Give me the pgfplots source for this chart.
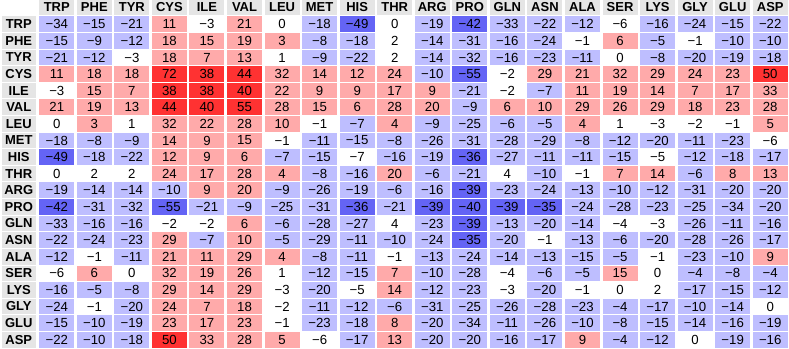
\documentclass[border=0pt]{standalone}
\usepackage{fontspec}
\setmainfont{Liberation Sans}
\usepackage{pgfplots}
\usepackage{pgfplotstable}
\pgfplotsset{compat=1.18}
\definecolor{cDB}{RGB}{100,100,245}
\definecolor{cLB}{RGB}{190,190,255}
\definecolor{cPK}{RGB}{255,170,170}
\definecolor{cRD}{RGB}{255,50,50}
\pgfdeclareplotmark{cell}{\pgfpathrectangle{\pgfpoint{-17.5pt}{-7.8pt}}{\pgfpoint{35pt}{15.6pt}}\pgfusepathqfill}
\newcommand\fmt[1]{\edef\tmpv{#1}\ifnum\tmpv<0 \char"2212\relax\number-\tmpv\relax\else\tmpv\fi}
% x = column, y = row, v = value, c = colour class (0 dark blue, 1 light blue, 2 white, 3 pink, 4 red)
\pgfplotstableread[row sep=\\]{
x y v c\\
0 0 -34 1\\ 1 0 -15 1\\ 2 0 -21 1\\ 3 0 11 3\\ 4 0 -3 2\\ 5 0 21 3\\ 6 0 0 2\\ 7 0 -18 1\\ 8 0 -49 0\\ 9 0 0 2\\ 10 0 -19 1\\ 11 0 -42 0\\ 12 0 -33 1\\ 13 0 -22 1\\ 14 0 -12 1\\ 15 0 -6 2\\ 16 0 -16 1\\ 17 0 -24 1\\ 18 0 -15 1\\ 19 0 -22 1\\
0 1 -15 1\\ 1 1 -9 1\\ 2 1 -12 1\\ 3 1 18 3\\ 4 1 15 3\\ 5 1 19 3\\ 6 1 3 3\\ 7 1 -8 1\\ 8 1 -18 1\\ 9 1 2 2\\ 10 1 -14 1\\ 11 1 -31 1\\ 12 1 -16 1\\ 13 1 -24 1\\ 14 1 -1 2\\ 15 1 6 3\\ 16 1 -5 1\\ 17 1 -1 2\\ 18 1 -10 1\\ 19 1 -10 1\\
0 2 -21 1\\ 1 2 -12 1\\ 2 2 -3 2\\ 3 2 18 3\\ 4 2 7 3\\ 5 2 13 3\\ 6 2 1 2\\ 7 2 -9 1\\ 8 2 -22 1\\ 9 2 2 2\\ 10 2 -14 1\\ 11 2 -32 1\\ 12 2 -16 1\\ 13 2 -23 1\\ 14 2 -11 1\\ 15 2 0 2\\ 16 2 -8 1\\ 17 2 -20 1\\ 18 2 -19 1\\ 19 2 -18 1\\
0 3 11 3\\ 1 3 18 3\\ 2 3 18 3\\ 3 3 72 4\\ 4 3 38 4\\ 5 3 44 4\\ 6 3 32 3\\ 7 3 14 3\\ 8 3 12 3\\ 9 3 24 3\\ 10 3 -10 1\\ 11 3 -55 0\\ 12 3 -2 2\\ 13 3 29 3\\ 14 3 21 3\\ 15 3 32 3\\ 16 3 29 3\\ 17 3 24 3\\ 18 3 23 3\\ 19 3 50 4\\
0 4 -3 2\\ 1 4 15 3\\ 2 4 7 3\\ 3 4 38 4\\ 4 4 38 4\\ 5 4 40 4\\ 6 4 22 3\\ 7 4 9 3\\ 8 4 9 3\\ 9 4 17 3\\ 10 4 9 3\\ 11 4 -21 1\\ 12 4 -2 2\\ 13 4 -7 1\\ 14 4 11 3\\ 15 4 19 3\\ 16 4 14 3\\ 17 4 7 3\\ 18 4 17 3\\ 19 4 33 3\\
0 5 21 3\\ 1 5 19 3\\ 2 5 13 3\\ 3 5 44 4\\ 4 5 40 4\\ 5 5 55 4\\ 6 5 28 3\\ 7 5 15 3\\ 8 5 6 3\\ 9 5 28 3\\ 10 5 20 3\\ 11 5 -9 1\\ 12 5 6 3\\ 13 5 10 3\\ 14 5 29 3\\ 15 5 26 3\\ 16 5 29 3\\ 17 5 18 3\\ 18 5 23 3\\ 19 5 28 3\\
0 6 0 2\\ 1 6 3 3\\ 2 6 1 2\\ 3 6 32 3\\ 4 6 22 3\\ 5 6 28 3\\ 6 6 10 3\\ 7 6 -1 2\\ 8 6 -7 1\\ 9 6 4 3\\ 10 6 -9 1\\ 11 6 -25 1\\ 12 6 -6 1\\ 13 6 -5 1\\ 14 6 4 3\\ 15 6 1 2\\ 16 6 -3 2\\ 17 6 -2 2\\ 18 6 -1 2\\ 19 6 5 3\\
0 7 -18 1\\ 1 7 -8 1\\ 2 7 -9 1\\ 3 7 14 3\\ 4 7 9 3\\ 5 7 15 3\\ 6 7 -1 2\\ 7 7 -11 1\\ 8 7 -15 1\\ 9 7 -8 1\\ 10 7 -26 1\\ 11 7 -31 1\\ 12 7 -28 1\\ 13 7 -29 1\\ 14 7 -8 1\\ 15 7 -12 1\\ 16 7 -20 1\\ 17 7 -11 1\\ 18 7 -23 1\\ 19 7 -6 2\\
0 8 -49 0\\ 1 8 -18 1\\ 2 8 -22 1\\ 3 8 12 3\\ 4 8 9 3\\ 5 8 6 3\\ 6 8 -7 1\\ 7 8 -15 1\\ 8 8 -7 2\\ 9 8 -16 1\\ 10 8 -19 1\\ 11 8 -36 0\\ 12 8 -27 1\\ 13 8 -11 1\\ 14 8 -11 1\\ 15 8 -15 1\\ 16 8 -5 2\\ 17 8 -12 1\\ 18 8 -18 1\\ 19 8 -17 1\\
0 9 0 2\\ 1 9 2 2\\ 2 9 2 2\\ 3 9 24 3\\ 4 9 17 3\\ 5 9 28 3\\ 6 9 4 3\\ 7 9 -8 1\\ 8 9 -16 1\\ 9 9 20 3\\ 10 9 -6 1\\ 11 9 -21 1\\ 12 9 4 2\\ 13 9 -10 1\\ 14 9 -1 2\\ 15 9 7 3\\ 16 9 14 3\\ 17 9 -6 1\\ 18 9 8 3\\ 19 9 13 3\\
0 10 -19 1\\ 1 10 -14 1\\ 2 10 -14 1\\ 3 10 -10 1\\ 4 10 9 3\\ 5 10 20 3\\ 6 10 -9 1\\ 7 10 -26 1\\ 8 10 -19 1\\ 9 10 -6 1\\ 10 10 -16 1\\ 11 10 -39 0\\ 12 10 -23 1\\ 13 10 -24 1\\ 14 10 -13 1\\ 15 10 -10 1\\ 16 10 -12 1\\ 17 10 -31 1\\ 18 10 -20 1\\ 19 10 -20 1\\
0 11 -42 0\\ 1 11 -31 1\\ 2 11 -32 1\\ 3 11 -55 0\\ 4 11 -21 1\\ 5 11 -9 1\\ 6 11 -25 1\\ 7 11 -31 1\\ 8 11 -36 0\\ 9 11 -21 1\\ 10 11 -39 0\\ 11 11 -40 0\\ 12 11 -39 0\\ 13 11 -35 0\\ 14 11 -24 1\\ 15 11 -28 1\\ 16 11 -23 1\\ 17 11 -25 1\\ 18 11 -34 1\\ 19 11 -20 1\\
0 12 -33 1\\ 1 12 -16 1\\ 2 12 -16 1\\ 3 12 -2 2\\ 4 12 -2 2\\ 5 12 6 3\\ 6 12 -6 1\\ 7 12 -28 1\\ 8 12 -27 1\\ 9 12 4 2\\ 10 12 -23 1\\ 11 12 -39 0\\ 12 12 -13 1\\ 13 12 -20 1\\ 14 12 -14 1\\ 15 12 -4 2\\ 16 12 -3 2\\ 17 12 -26 1\\ 18 12 -11 1\\ 19 12 -16 1\\
0 13 -22 1\\ 1 13 -24 1\\ 2 13 -23 1\\ 3 13 29 3\\ 4 13 -7 1\\ 5 13 10 3\\ 6 13 -5 1\\ 7 13 -29 1\\ 8 13 -11 1\\ 9 13 -10 1\\ 10 13 -24 1\\ 11 13 -35 0\\ 12 13 -20 1\\ 13 13 -1 2\\ 14 13 -13 1\\ 15 13 -6 1\\ 16 13 -20 1\\ 17 13 -28 1\\ 18 13 -26 1\\ 19 13 -17 1\\
0 14 -12 1\\ 1 14 -1 2\\ 2 14 -11 1\\ 3 14 21 3\\ 4 14 11 3\\ 5 14 29 3\\ 6 14 4 3\\ 7 14 -8 1\\ 8 14 -11 1\\ 9 14 -1 2\\ 10 14 -13 1\\ 11 14 -24 1\\ 12 14 -14 1\\ 13 14 -13 1\\ 14 14 -15 1\\ 15 14 -5 1\\ 16 14 -1 2\\ 17 14 -23 1\\ 18 14 -10 1\\ 19 14 9 3\\
0 15 -6 2\\ 1 15 6 3\\ 2 15 0 2\\ 3 15 32 3\\ 4 15 19 3\\ 5 15 26 3\\ 6 15 1 2\\ 7 15 -12 1\\ 8 15 -15 1\\ 9 15 7 3\\ 10 15 -10 1\\ 11 15 -28 1\\ 12 15 -4 2\\ 13 15 -6 1\\ 14 15 -5 1\\ 15 15 15 3\\ 16 15 0 2\\ 17 15 -4 1\\ 18 15 -8 1\\ 19 15 -4 1\\
0 16 -16 1\\ 1 16 -5 1\\ 2 16 -8 1\\ 3 16 29 3\\ 4 16 14 3\\ 5 16 29 3\\ 6 16 -3 2\\ 7 16 -20 1\\ 8 16 -5 2\\ 9 16 14 3\\ 10 16 -12 1\\ 11 16 -23 1\\ 12 16 -3 2\\ 13 16 -20 1\\ 14 16 -1 2\\ 15 16 0 2\\ 16 16 2 2\\ 17 16 -17 1\\ 18 16 -15 1\\ 19 16 -12 1\\
0 17 -24 1\\ 1 17 -1 2\\ 2 17 -20 1\\ 3 17 24 3\\ 4 17 7 3\\ 5 17 18 3\\ 6 17 -2 2\\ 7 17 -11 1\\ 8 17 -12 1\\ 9 17 -6 1\\ 10 17 -31 1\\ 11 17 -25 1\\ 12 17 -26 1\\ 13 17 -28 1\\ 14 17 -23 1\\ 15 17 -4 1\\ 16 17 -17 1\\ 17 17 -10 1\\ 18 17 -14 1\\ 19 17 0 2\\
0 18 -15 1\\ 1 18 -10 1\\ 2 18 -19 1\\ 3 18 23 3\\ 4 18 17 3\\ 5 18 23 3\\ 6 18 -1 2\\ 7 18 -23 1\\ 8 18 -18 1\\ 9 18 8 3\\ 10 18 -20 1\\ 11 18 -34 1\\ 12 18 -11 1\\ 13 18 -26 1\\ 14 18 -10 1\\ 15 18 -8 1\\ 16 18 -15 1\\ 17 18 -14 1\\ 18 18 -16 1\\ 19 18 -19 1\\
0 19 -22 1\\ 1 19 -10 1\\ 2 19 -18 1\\ 3 19 50 4\\ 4 19 33 3\\ 5 19 28 3\\ 6 19 5 3\\ 7 19 -6 2\\ 8 19 -17 1\\ 9 19 13 3\\ 10 19 -20 1\\ 11 19 -20 1\\ 12 19 -16 1\\ 13 19 -17 1\\ 14 19 9 3\\ 15 19 -4 1\\ 16 19 -12 1\\ 17 19 0 2\\ 18 19 -19 1\\ 19 19 -16 1\\
}\data
\begin{document}
\begin{tikzpicture}
\path[use as bounding box] (-38pt,0pt) rectangle (751pt,348pt);
\begin{axis}[
  at={(0pt,0pt)}, anchor=south west,
  scale only axis, width=751pt, height=332pt,
  xmin=-0.5, xmax=19.5, ymin=-19.5, ymax=0.5,
  clip=false,
  axis line style={draw=none},
  major tick length=0pt,
  xtick={0,...,19},
  xticklabels={TRP,PHE,TYR,CYS,ILE,VAL,LEU,MET,HIS,THR,ARG,PRO,GLN,ASN,ALA,SER,LYS,GLY,GLU,ASP},
  ytick={-19,...,0},
  yticklabels={ASP,GLU,GLY,LYS,SER,ALA,ASN,GLN,PRO,ARG,THR,HIS,MET,LEU,VAL,ILE,CYS,TYR,PHE,TRP},
  xticklabel pos=upper,
  xticklabel style={anchor=south, yshift=1pt, inner sep=0pt, minimum width=35pt, minimum height=15pt, fill=black!10, font=\bfseries\fontsize{13}{14}\selectfont},
  yticklabel style={anchor=east, xshift=-2pt, inner sep=0pt, minimum width=34pt, minimum height=15.6pt, fill=black!10, font=\bfseries\fontsize{13}{14}\selectfont},
]
\addplot[scatter, only marks, mark=cell,
  scatter src=explicit symbolic,
  scatter/classes={0={fill=cDB},1={fill=cLB},2={fill=white},3={fill=cPK},4={fill=cRD}},
] table[x=x, y expr=-\thisrow{y}, meta=c]{\data};
\addplot[only marks, mark=none,
  point meta=explicit symbolic,
  nodes near coords={\fmt{\pgfplotspointmeta}},
  nodes near coords style={anchor=center, text=black, inner sep=0pt, font=\fontsize{13.2}{14}\selectfont},
] table[x=x, y expr=-\thisrow{y}, meta=v]{\data};
\end{axis}
\end{tikzpicture}
\end{document}
